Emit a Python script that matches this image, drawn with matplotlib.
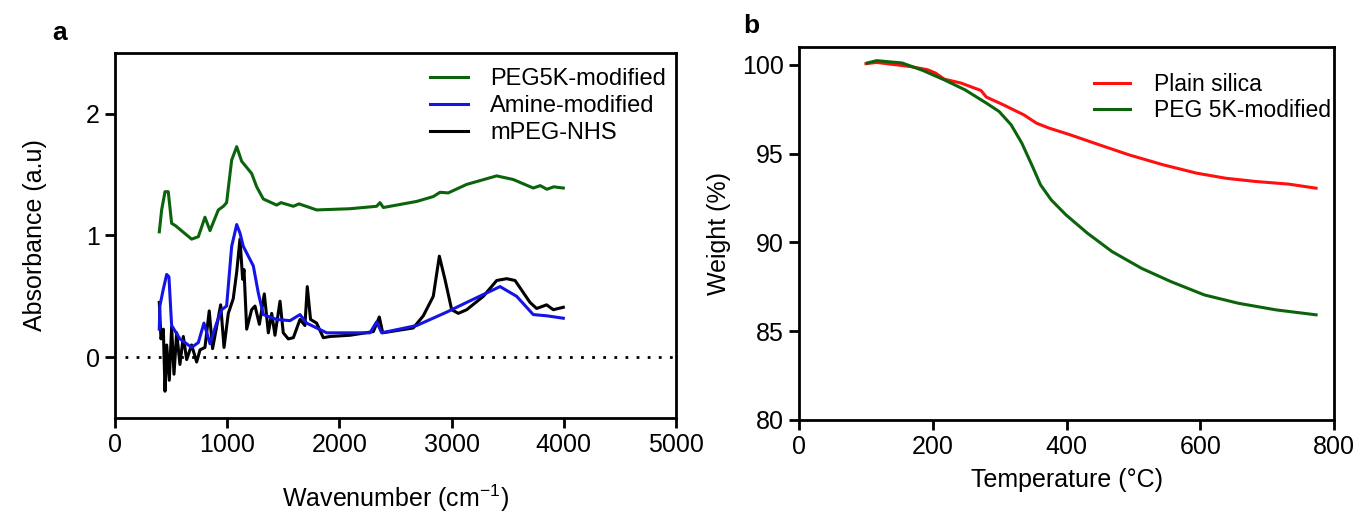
import matplotlib
matplotlib.use("Agg")
import matplotlib.pyplot as plt

plt.rcParams['font.family'] = ['Liberation Sans', 'DejaVu Sans']
plt.rcParams['mathtext.fontset'] = 'custom'
plt.rcParams['mathtext.rm'] = 'Liberation Sans'
plt.rcParams['mathtext.it'] = 'Liberation Sans'
plt.rcParams['mathtext.bf'] = 'Liberation Sans:bold'

# ---- panel a: FTIR spectra ----
peg5k_x = [395, 416, 446, 475, 505, 540, 579, 683, 743, 802, 847, 921, 966, 995, 1040,
           1085, 1129, 1218, 1263, 1322, 1441, 1480, 1590, 1640, 1798, 2095, 2332, 2362, 2392,
           2689, 2837, 2897, 2970, 3135, 3402, 3550, 3728, 3790, 3850, 3910, 3996]
peg5k_y = [1.03, 1.21, 1.36, 1.36, 1.10, 1.08, 1.05, 0.97, 0.99, 1.15, 1.04, 1.21, 1.24, 1.27, 1.62,
           1.73, 1.61, 1.51, 1.40, 1.30, 1.25, 1.27, 1.24, 1.26, 1.21, 1.22, 1.24, 1.27, 1.23,
           1.28, 1.32, 1.355, 1.35, 1.42, 1.49, 1.46, 1.39, 1.41, 1.38, 1.40, 1.39]

amine_x = [395, 400, 431, 461, 481, 505, 579, 683, 743, 793, 847, 906, 951, 995, 1040,
           1085, 1114, 1144, 1233, 1277, 1322, 1441, 1560, 1649, 1708, 1887, 2273,
           2332, 2377, 2689, 2956, 3135, 3432, 3580, 3728, 3847, 3996]
amine_y = [0.23, 0.42, 0.56, 0.68, 0.66, 0.26, 0.15, 0.08, 0.12, 0.28, 0.11, 0.28, 0.39, 0.42, 0.91,
           1.09, 1.02, 0.91, 0.75, 0.53, 0.35, 0.31, 0.30, 0.35, 0.28, 0.20, 0.20,
           0.29, 0.20, 0.26, 0.37, 0.45, 0.58, 0.50, 0.35, 0.34, 0.32]

mpeg_x = [395, 410, 431, 446, 461, 484, 505, 526, 550, 579, 609, 639, 683, 728, 758, 802,
          840, 870, 942, 972, 1010, 1054, 1085, 1114, 1138, 1150, 1174, 1218, 1248, 1287,
          1331, 1367, 1397, 1426, 1471, 1500, 1545, 1590, 1649, 1693, 1714, 1743, 1797,
          1857, 1917, 2095, 2303, 2356, 2386, 2659, 2748, 2837, 2891, 2941, 3001, 3060,
          3135, 3283, 3402, 3491, 3566, 3699, 3758, 3847, 3907, 3996]
mpeg_y = [0.45, 0.15, 0.23, -0.28, 0.10, -0.19, 0.25, -0.14, 0.20, -0.06, 0.17, -0.02, 0.10, -0.04, 0.06, 0.08,
          0.38, 0.07, 0.43, 0.08, 0.36, 0.48, 0.70, 0.97, 0.64, 0.72, 0.23, 0.39, 0.42, 0.27,
          0.52, 0.20, 0.36, 0.18, 0.46, 0.20, 0.15, 0.16, 0.31, 0.26, 0.58, 0.31, 0.28,
          0.16, 0.17, 0.18, 0.21, 0.33, 0.20, 0.24, 0.34, 0.50, 0.83, 0.64, 0.39, 0.36,
          0.39, 0.50, 0.63, 0.645, 0.63, 0.45, 0.40, 0.43, 0.39, 0.41]

# ---- panel b: TGA ----
silica_t = [100, 116, 166, 192, 204, 217, 242, 272, 280, 305, 336, 355, 374, 405, 449,
            493, 544, 594, 638, 682, 732, 773]
silica_w = [100.06, 100.13, 99.9, 99.72, 99.53, 99.19, 98.97, 98.55, 98.18, 97.75, 97.18,
            96.71, 96.43, 96.06, 95.49, 94.93, 94.37, 93.90, 93.61, 93.43, 93.28, 93.05]

peg_t = [102, 116, 154, 185, 217, 248, 280, 299, 317, 333, 349, 361, 377, 399, 431,
         468, 512, 556, 606, 657, 713, 773]
peg_w = [100.1, 100.23, 100.1, 99.68, 99.15, 98.59, 97.84, 97.37, 96.62, 95.59, 94.27,
         93.24, 92.39, 91.55, 90.52, 89.48, 88.54, 87.79, 87.04, 86.57, 86.20, 85.92]

verde = '#0b640b'
fs = 18

fig = plt.figure(figsize=(13.59, 5.14), dpi=100)

# panel a
ax1 = fig.add_axes([0.0846, 0.1868, 0.4128, 0.7101])
ax1.plot(peg5k_x, peg5k_y, color=verde, lw=2.2, label='PEG5K-modified')
ax1.plot(mpeg_x, mpeg_y, color='black', lw=2.2, label='mPEG-NHS')
ax1.plot(amine_x, amine_y, color='#1414e6', lw=2.2, label='Amine-modified')
ax1.axhline(0, xmin=0.018, color='black', lw=2, linestyle=(0, (1, 3)))
ax1.set_xlim(0, 5000)
ax1.set_ylim(-0.5, 2.5)
ax1.set_xticks([0, 1000, 2000, 3000, 4000, 5000])
ax1.set_yticks([0, 1, 2])
ax1.set_xlabel('Wavenumber (cm$^{-1}$)', fontsize=fs, labelpad=18)
ax1.set_ylabel('Absorbance (a.u)', fontsize=fs, labelpad=28)
h, l = ax1.get_legend_handles_labels()
orden = [0, 2, 1]
ax1.legend([h[i] for i in orden], [l[i] for i in orden], loc='upper left',
           bbox_to_anchor=(0.541, 0.99), frameon=False, fontsize=17,
           handlelength=1.6, handletextpad=0.93, labelspacing=0.2, borderpad=0)

# panel b
ax2 = fig.add_axes([0.588, 0.1829, 0.3937, 0.7257])
ax2.plot(silica_t, silica_w, color='#ff1010', lw=2.2, label='Plain silica')
ax2.plot(peg_t, peg_w, color=verde, lw=2.2, label='PEG 5K-modified')
ax2.set_xlim(0, 800)
ax2.set_ylim(80, 101)
ax2.set_xticks([0, 200, 400, 600, 800])
ax2.set_yticks([80, 85, 90, 95, 100])
ax2.set_xlabel('Temperature (°C)', fontsize=fs, labelpad=6)
ax2.set_ylabel('Weight (%)', fontsize=fs, labelpad=8)
ax2.legend(loc='upper left', bbox_to_anchor=(0.529, 0.962), frameon=False, fontsize=16.5,
           handlelength=1.57, handletextpad=1.05, labelspacing=0.13, borderpad=0)

for ax in (ax1, ax2):
    for s in ax.spines.values():
        s.set_linewidth(2)
    ax.tick_params(width=2, length=7, labelsize=fs, pad=4)

fig.text(0.044, 0.935, 'a', fontsize=19, fontweight='bold', ha='center', va='center')
fig.text(0.553, 0.95, 'b', fontsize=19, fontweight='bold', ha='center', va='center')

fig.savefig('out.png', dpi=100)
